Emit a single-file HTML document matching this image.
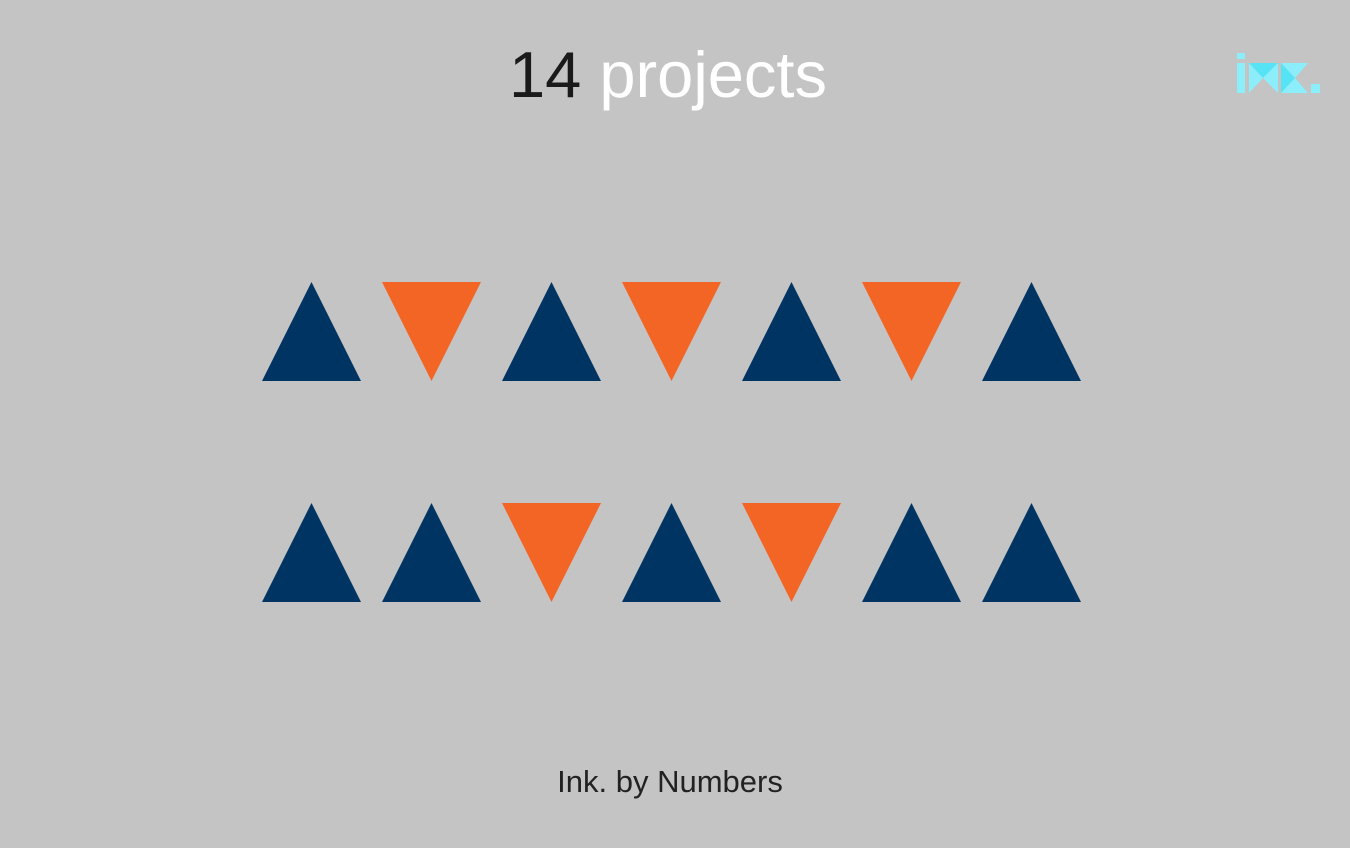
<!DOCTYPE html>
<html><head><meta charset="utf-8"><style>
body{margin:0;width:1350px;height:848px;background:#c4c4c4;overflow:hidden;font-family:"Liberation Sans",sans-serif}
svg{position:absolute;left:0;top:0}
</style></head><body>
<svg width="1350" height="848">
<text x="668" y="97" text-anchor="middle" font-size="65" font-family="Liberation Sans, sans-serif"><tspan fill="#1a1a1a">14</tspan><tspan fill="#ffffff"> projects</tspan></text>
<g>
<rect x="1237" y="53" width="8" height="6" fill="#8ceefa"/>
<rect x="1237" y="63" width="8" height="30" fill="#8ceefa"/>
<polygon points="1249,63 1278,63 1263,78" fill="#55e3f5"/>
<polygon points="1249,63 1263,78 1249,93" fill="#8ceefa"/>
<polygon points="1278,63 1263,78 1278,93" fill="#8ceefa"/>
<polygon points="1281,63 1308,63 1295,78" fill="#8ceefa"/>
<polygon points="1281,63 1295,78 1281,93" fill="#55e3f5"/>
<polygon points="1281,93 1295,78 1308,93" fill="#8ceefa"/>
<rect x="1311" y="84" width="9" height="9" fill="#8ceefa"/>
</g>
<g id="marks"></g>
<text x="670" y="792" text-anchor="middle" font-size="31" fill="#222">Ink. by Numbers</text>
</svg>
<script>
const row1 = ["up","down","up","down","up","down","up"];
const row2 = ["up","up","down","up","down","up","up"];
const rows = [row1, row2];
const g = document.getElementById('marks');
const ns = "http://www.w3.org/2000/svg";
function xCenter(i){return 311.5 + i*120;}
function yTop(r){return 282 + r*221;}
rows.forEach((row, r) => {
  row.forEach((d, i) => {
    const cx = xCenter(i), t = yTop(r), w = 49.5, h = 99;
    const p = document.createElementNS(ns, 'polygon');
    const pts = d === "up" ? [[cx,t],[cx+w,t+h],[cx-w,t+h]] : [[cx-w,t],[cx+w,t],[cx,t+h]];
    p.setAttribute('points', pts.map(q=>q.join(',')).join(' '));
    p.setAttribute('fill', d === "up" ? '#003462' : '#f26524');
    
    
    g.appendChild(p);
  });
});
</script>
</body></html>
